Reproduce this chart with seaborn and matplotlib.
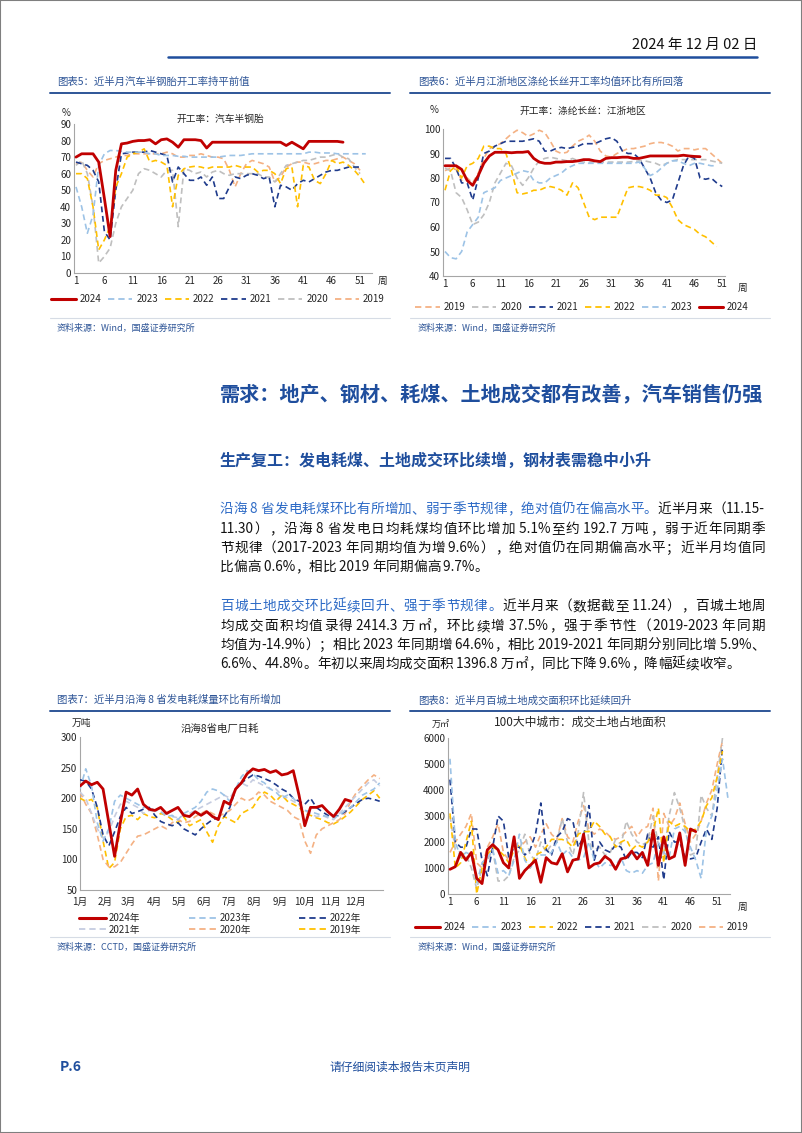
import re
import numpy as np
import seaborn as sns
import matplotlib.pyplot as plt
from matplotlib.lines import Line2D
from matplotlib.patches import Rectangle
from matplotlib.font_manager import FontProperties

# ---- 图表5 汽车半钢胎开工率 (%) ----
c5_2024 = [70,72,72,72,67,45,22,62,78,78.5,79.5,80,80,80.5,78,80.5,81,79,76,80.5,
           80.5,80.5,80,75.5,79,79,79,79,79,79,79,79,79,79,79,79,79,77,79,77,
           75,79.5,79.5,79.5,79.5,79.5,79.5,79]
c5_2023 = [52,40,24,35,65,72,74,74,73.5,73,73,73,73,72,72,71,71,71,70.5,70.5,
           70,70,70,70,70,70,70.5,71,71,71,71.5,72,72,72,72,72,72,72,72,72,
           72,73,73,72.5,72.5,72.5,72,72,72,72,72,72]
c5_2022 = [60,60,57,40,14,20,28,52,60,70,72,73,75,67,68,67,65,40,59,63,
           64,64.5,64,63,64,64,64,64,65,64,64,64,61,62,62,60,54,63,64,40,
           65,64,56,54,60,68,66,67,65,62,58,53]
c5_2021 = [67,66,65,62,55,25,20,50,72,72.5,73,73,73,74,73,72,71,55,64,60,
           56,56,58,53,58,45,45,52,58,57,59,60,59,57,58,40,53,52,50,54,
           56,55,57,59,61,62,62,63,64,64,64]
c5_2020 = [65,68,60,40,6,10,15,30,40,45,50,60,63,62,60,58,62,62,28,63,
           62,60,61,58,61,62,60,59,60,60,60,60,60,58,58,55,60,65,66,67,
           68,68,69,70,70,71,72,70,69,64,60]
c5_2019 = [66,67,62,58,66,68,69,70,71,71,72,72,72,72,72,72,73,72,70,70,
           71,71,72,71,70,70,69,62,52,60,66,68,67,66,64,55,58,64,66,67,
           67,66,66,67,68,68,69,70,68,66,62]

# ---- 图表6 涤纶长丝开工率：江浙地区 (%) ----
c6_2024 = [85,85,85,83.5,79,77,81,86,89,90.5,90.5,90.5,90.3,90.5,90.5,90.8,88,86.5,86,86,
           86.5,86.5,86.7,86.7,87,87.5,87.5,87,86.7,88,88.3,88.3,88.5,88.5,88,88,88.5,89,89,89,
           89,89,89,89.3,89,88.8,88.7]
c6_2023 = [50,47.5,47,50,58,61,64,74,75,76,79,80,81,82,83,82.5,79,78,78,80,
           81,82,84,85,86,86,86,86,86,86,86,86,86,86,86,86.5,84,81,82,84,
           86,87,87,86,85,86,86,85.5,85,85]
c6_2022 = [75,83,85,80,85,86,88,93,93,92,92,90,83,74,73.5,74,75,75,76,76.5,
           76,75,73,78,76,70,64,63,64,64,64,64,70,76,76.5,76.5,76,75,73,73,
           72,68,63,61,60,59,57,56,54,52]
c6_2021 = [88,88,84,78,78,71,80,90,91,93,94,95,95,95,95,95.5,96,95,91,91,
           92,92.5,92,92.5,93,94,94,94,95,96,96.5,95,91,90,90,88,84,80,74,71,
           70,71,78,85,89,88,80,79.5,80,78,76.5]
c6_2020 = [84,83,74,72,67,61,62,65,70,78,82,86,85,80,77,80,84,87,88,88.5,
           88,87.5,87,88,87,86.5,86.5,86.5,86.5,86.5,86.5,86.5,86.5,86.5,86.7,87,87,86.5,86,85,
           86,87,87.5,87.5,87.5,87.5,87.5,87.5,87,86.5,86]
c6_2019 = [83,84,83.5,79,80,78,82,88,92,93,94,96,98,99.5,98.5,97,98,99.5,98.5,95,
           91,90,90.5,93,95,96,97.5,95,91,89,88.5,90,91,92,92,92.5,93,94,94.5,94.5,
           94,93,91,92,92,91.5,92,92,90,88,86]

# ---- 图表7 沿海8省电厂日耗 (万吨), 每7天取值 ----
c7_2024 = [220,228,222,226,215,160,105,160,210,205,215,190,182,180,185,175,180,185,172,170,
           178,172,178,170,165,195,190,215,225,240,248,245,247,242,245,238,240,245,205,155,
           185,185,188,178,170,182,198,195]
c7_2023 = [215,248,220,160,130,150,195,205,200,195,190,185,185,180,178,170,172,165,175,180,
           185,195,210,215,212,205,195,215,235,245,240,230,225,215,210,200,205,200,190,180,
           178,175,172,170,168,172,180,185,195,205,210,215,225]
c7_2022 = [230,228,215,185,140,122,145,170,185,175,178,182,185,172,162,158,155,160,150,145,
           140,150,158,165,168,170,185,215,225,232,238,236,232,228,222,215,210,200,195,190,
           200,185,178,172,170,172,178,185,192,198,200,198,195]
c7_2021 = [210,200,175,150,135,145,170,190,195,190,185,175,180,178,185,175,170,168,172,175,
           180,185,190,195,200,205,200,215,225,220,230,225,220,215,215,205,200,195,190,180,
           175,170,172,168,165,175,185,195,205,215,225,230,220]
c7_2020 = [210,190,175,140,100,88,88,95,110,125,138,140,145,150,155,150,160,165,160,162,
           170,175,180,175,170,175,180,190,200,195,200,210,205,195,190,185,180,170,165,130,
           110,140,150,155,160,165,175,195,210,220,230,238,232]
c7_2019 = [200,195,198,185,130,85,95,150,170,172,165,175,170,168,175,172,165,160,170,155,
           160,165,145,128,155,170,165,160,175,180,185,200,210,205,195,205,195,190,185,175,
           172,168,165,160,158,163,170,178,188,198,205,212,200]
months = ["1月","2月","3月","4月","5月","6月","7月","8月","9月","10月","11月","12月"]
month_days = [1,32,60,91,121,152,182,213,244,274,305,335]

# ---- 图表8 100大中城市成交土地占地面积 (万㎡) ----
c8_2024 = [950,1050,1600,1300,1600,600,400,1700,1900,1700,1200,1000,2200,600,900,1100,1300,450,1400,1200,
           1150,1550,850,1300,1350,2300,1000,1150,1200,1450,1300,950,1350,1400,1650,1350,1600,1100,2450,1100,
           2200,1350,1450,2350,1100,2500,2400]
c8_2023 = [5200,2000,1400,1600,1500,400,1200,1400,1700,800,900,700,1300,2300,1300,1000,1300,1500,1500,1600,
           2000,1500,1700,1400,1300,1400,2000,1300,1000,1200,1100,1100,1400,900,800,900,800,1100,1200,2000,
           1600,1400,2500,2600,2400,1800,1300,600,2500,3000,4000,5200,3700]
c8_2022 = [3100,1000,1200,2000,2800,0,1000,1500,1800,1700,1500,1200,1700,1900,1400,1000,1500,1600,1800,2100,
           2100,2100,2000,1800,2300,2400,2400,2800,2600,2300,2200,1800,2000,2100,1700,1900,1800,2000,2400,3300,
           1200,2800,2600,2700,2600,2400,2500,2800,3400,3700,4500,5500]
c8_2021 = [4400,2000,1800,1800,2500,2500,1300,700,1800,3000,2800,1400,1800,1800,1500,1700,2300,3500,1700,1500,
           2200,2400,2900,2800,1800,2200,3400,1300,2000,1700,1600,1900,1800,1300,1600,1600,1400,2300,1800,2200,
           550,2400,2000,2000,1400,1350,1400,2000,2500,2100,3300,5700]
c8_2020 = [3000,1700,1600,1500,1000,200,1000,1300,1700,500,500,700,1400,1700,2300,1500,1300,2000,1600,1900,
           2000,2900,2000,1500,2400,3900,2000,1700,1800,1500,1600,2100,1900,2800,2300,2000,1900,2000,3000,1900,
           1500,3000,3900,3300,2500,1500,1600,3800,3300,3000,4500,6000]
c8_2019 = [1600,2000,2300,2600,3100,1200,1000,1800,2200,2700,1600,1300,2000,1800,2000,2200,1800,2300,2700,2300,
           2100,2900,2200,2000,2800,3400,2500,2300,2500,2400,2200,2100,2200,2400,2600,2200,2500,2600,3300,500,
           3100,2600,2900,3500,2700,2000,2300,2800,3500,4000,5000,5900]

# 颜色
RED = "#C00000"
LBLUE = "#9DC3E6"
YEL = "#FFC000"
NAVY = "#1F3B8C"
GRAY = "#BFBFBF"
PEACH = "#F4B183"
LAV = "#C5CCE0"
BLUE_T = "#2E5597"
HEAD = "#1F4E9D"
DASH = (0, (3.5, 2.2))

sns.set_theme(style="white")
plt.rcParams['font.family'] = ['Noto Sans CJK SC', 'DejaVu Sans']
plt.rcParams['axes.unicode_minus'] = False

W, H = 802, 1133
fig = plt.figure(figsize=(W / 100, H / 100), dpi=100)


def fx(x):
    return x / W


def fy(y):
    return 1 - y / H


def make_ax(x0, ytop, x1, ybot):
    ax = fig.add_axes([fx(x0), fy(ybot), (x1 - x0) / W, (ybot - ytop) / H])
    for s in ["top", "right"]:
        ax.spines[s].set_visible(False)
    for s in ["left", "bottom"]:
        ax.spines[s].set_color("#A6A6A6")
        ax.spines[s].set_linewidth(0.8)
    ax.tick_params(length=0, pad=2, labelsize=7, colors="#262626")
    ax.grid(False)
    return ax


def draw(ax, x0, series):
    # series: list of (label, values, color, solid)
    for lab, vals, col, solid in series:
        xs = np.arange(len(vals)) * x0[1] + x0[0]
        sns.lineplot(x=xs, y=vals, ax=ax, color=col,
                     linewidth=2.0 if solid else 1.2,
                     linestyle="-" if solid else DASH,
                     zorder=5 if solid else 3, legend=False)
    ax.set_xlabel("")
    ax.set_ylabel("")


def handles(series):
    return [Line2D([], [], color=c, lw=2.2 if s else 1.3, linestyle="-" if s else DASH)
            for _, _, c, s in series]


def legend_row(series, cx, cy):
    fig.legend(handles(series), [s[0] for s in series], loc="center",
               bbox_to_anchor=(fx(cx), fy(cy)), ncol=6, frameon=False, fontsize=7,
               handlelength=2.5, columnspacing=0.7, handletextpad=0.4)


def caption(x, y, txt, x0, x1):
    fig.text(fx(x), fy(y), txt, fontsize=7.5, color=BLUE_T, style="italic", va="center")
    fig.add_artist(Line2D([fx(x0), fx(x1)], [fy(y + 11), fy(y + 11)], color=BLUE_T, lw=1.4))


def source(x, y, txt, x0, x1):
    fig.add_artist(Line2D([fx(x0), fx(x1)], [fy(y - 10), fy(y - 10)], color="#D6DCE5", lw=0.8))
    fig.text(fx(x), fy(y), txt, fontsize=6.5, color=BLUE_T, style="italic", va="center")


# 页眉
fig.text(fx(757), fy(45), "2024 年 12 月 02 日", fontsize=10.5, ha="right", va="center", color="#111111")
fig.add_artist(Line2D([fx(168), fx(757)], [fy(57), fy(57)], color="#1F4E9D", lw=1.8))

# ================= 图表5 =================
caption(57, 82, "图表5：近半月汽车半钢胎开工率持平前值", 50, 390)
ax5 = make_ax(74, 124, 372, 273)
s5 = [("2024", c5_2024, RED, True), ("2023", c5_2023, LBLUE, False),
      ("2022", c5_2022, YEL, False), ("2021", c5_2021, NAVY, False),
      ("2020", c5_2020, GRAY, False), ("2019", c5_2019, PEACH, False)]
draw(ax5, (1, 1), s5[::-1])
ax5.set_xlim(0.65, 53.1)
ax5.set_ylim(0, 90)
ax5.set_xticks(range(1, 52, 5))
ax5.set_yticks(range(0, 91, 10))
fig.text(fx(62), fy(113), "%", fontsize=7, va="center")
fig.text(fx(378), fy(281), "周", fontsize=7, va="center")
fig.text(fx(220), fy(119), "开工率：汽车半钢胎", fontsize=7, ha="center", va="center")
legend_row(s5, 218, 299)
source(57, 328, "资料来源：Wind，国盛证券研究所", 50, 390)

# ================= 图表6 =================
caption(418, 82, "图表6：近半月江浙地区涤纶长丝开工率均值环比有所回落", 410, 770)
ax6 = make_ax(443, 129, 725, 276)
s6 = [("2019", c6_2019, PEACH, False), ("2020", c6_2020, GRAY, False),
      ("2021", c6_2021, NAVY, False), ("2022", c6_2022, YEL, False),
      ("2023", c6_2023, LBLUE, False), ("2024", c6_2024, RED, True)]
draw(ax6, (1, 1), s6)
ax6.set_xlim(0.64, 51.5)
ax6.set_ylim(40, 100)
ax6.set_xticks(range(1, 52, 5))
ax6.set_yticks(range(40, 101, 10))
fig.text(fx(430), fy(110), "%", fontsize=7, va="center")
fig.text(fx(738), fy(288), "周", fontsize=7, va="center")
fig.text(fx(583), fy(111), "开工率：涤纶长丝：江浙地区", fontsize=7, ha="center", va="center")
legend_row(s6, 582, 307)
source(418, 328, "资料来源：Wind，国盛证券研究所", 410, 770)

# ================= 正文 =================
fig.text(fx(220), fy(395), "需求：地产、钢材、耗煤、土地成交都有改善，汽车销售仍强",
         fontsize=14.5, fontweight="bold", color=HEAD, va="center")
fig.text(fx(220), fy(461), "生产复工：发电耗煤、土地成交环比续增，钢材表需稳中小升",
         fontsize=11.5, fontweight="bold", color=HEAD, va="center")

# (y, 蓝色部分, 黑色部分, 是否两端对齐)
para = [
    (509, "沿海 8 省发电耗煤环比有所增加、弱于季节规律，绝对值仍在偏高水平。", "近半月来（11.15-", True),
    (529, "", "11.30），沿海 8 省发电日均耗煤均值环比增加 5.1%至约 192.7 万吨，弱于近年同期季", True),
    (548, "", "节规律（2017-2023 年同期均值为增 9.6%），绝对值仍在同期偏高水平；近半月均值同", True),
    (567, "", "比偏高 0.6%，相比 2019 年同期偏高 9.7%。", False),
    (606, "百城土地成交环比延续回升、强于季节规律。", "近半月来（数据截至 11.24），百城土地周", True),
    (626, "", "均成交面积均值录得 2414.3 万㎡，环比续增 37.5%，强于季节性（2019-2023 年同期", True),
    (645, "", "均值为-14.9%）；相比 2023 年同期增 64.6%，相比 2019-2021 年同期分别同比增 5.9%、", True),
    (664, "", "6.6%、44.8%。年初以来周均成交面积 1396.8 万㎡，同比下降 9.6%，降幅延续收窄。", False),
]
renderer = fig.canvas.get_renderer()
fp = FontProperties(family=['Noto Sans CJK SC', 'DejaVu Sans'], size=9.8)
X0, X1 = 220, 765
for y, blue, black, justify in para:
    # 拉丁字符连成一段，汉字逐字排，两端对齐时把余量分给各段之间
    tokens = [(t, "#2E6BC6") for t in re.findall(r"[ -~]+|.", blue)]
    tokens += [(t, "#111111") for t in re.findall(r"[ -~]+|.", black)]
    widths = [renderer.get_text_width_height_descent(t, fp, ismath=False)[0] for t, _ in tokens]
    extra = 0.0
    if justify:
        extra = (X1 - X0 - sum(widths)) / (len(tokens) - 1)
    xpos = X0
    for (t, col), w in zip(tokens, widths):
        fig.text(fx(xpos), fy(y), t, fontproperties=fp, color=col, va="center")
        xpos += w + extra

# ================= 图表7 =================
caption(57, 700, "图表7：近半月沿海 8 省发电耗煤量环比有所增加", 50, 390)
ax7 = make_ax(80, 737, 383, 890)
s7 = [("2024年", c7_2024, RED, True), ("2023年", c7_2023, LBLUE, False),
      ("2022年", c7_2022, NAVY, False), ("2021年", c7_2021, LAV, False),
      ("2020年", c7_2020, PEACH, False), ("2019年", c7_2019, YEL, False)]
draw(ax7, (1, 7), s7[::-1])
ax7.set_xlim(1, 369)
ax7.set_ylim(50, 300)
ax7.set_xticks(month_days)
ax7.set_xticklabels(months)
ax7.set_yticks(range(50, 301, 50))
ax7.tick_params(axis="x", pad=5)
fig.text(fx(72), fy(723), "万吨", fontsize=7, va="center")
fig.text(fx(220), fy(729), "沿海8省电厂日耗", fontsize=7.5, ha="center", va="center")
order7 = [0, 3, 1, 4, 2, 5]
h7 = handles(s7)
fig.legend([h7[i] for i in order7], [s7[i][0] for i in order7], loc="center",
           bbox_to_anchor=(fx(220), fy(924)), ncol=3, frameon=False, fontsize=7,
           handlelength=2.8, columnspacing=5.0, handletextpad=0.3, labelspacing=0.15)
source(57, 947, "资料来源：CCTD，国盛证券研究所", 50, 390)

# ================= 图表8 =================
caption(418, 700, "图表8：近半月百城土地成交面积环比延续回升", 410, 770)
ax8 = make_ax(448, 738, 730, 894)
s8 = [("2024", c8_2024, RED, True), ("2023", c8_2023, LBLUE, False),
      ("2022", c8_2022, YEL, False), ("2021", c8_2021, NAVY, False),
      ("2020", c8_2020, GRAY, False), ("2019", c8_2019, PEACH, False)]
draw(ax8, (1, 1), s8[::-1])
ax8.set_xlim(0.63, 53.4)
ax8.set_ylim(0, 6000)
ax8.set_xticks(range(1, 52, 5))
ax8.set_yticks(range(0, 6001, 1000))
fig.text(fx(432), fy(725), "万㎡", fontsize=6.5, va="center")
fig.text(fx(738), fy(907), "周", fontsize=7, va="center")
fig.text(fx(580), fy(722), "100大中城市：成交土地占地面积", fontsize=8.5, ha="center", va="center")
legend_row(s8, 582, 927)
source(418, 947, "资料来源：Wind，国盛证券研究所", 410, 770)

# 页脚
fig.text(fx(60), fy(1067), "P.6", fontsize=10, fontweight="bold", style="italic", color=HEAD, va="center")
fig.text(fx(400), fy(1067), "请仔细阅读本报告末页声明", fontsize=8.5, color=HEAD, ha="center", va="center")
fig.add_artist(Rectangle((0, 0), 1, 1, transform=fig.transFigure, fill=False,
                         edgecolor="#7F7F7F", lw=1.5))

fig.savefig("out.png", dpi=100)
